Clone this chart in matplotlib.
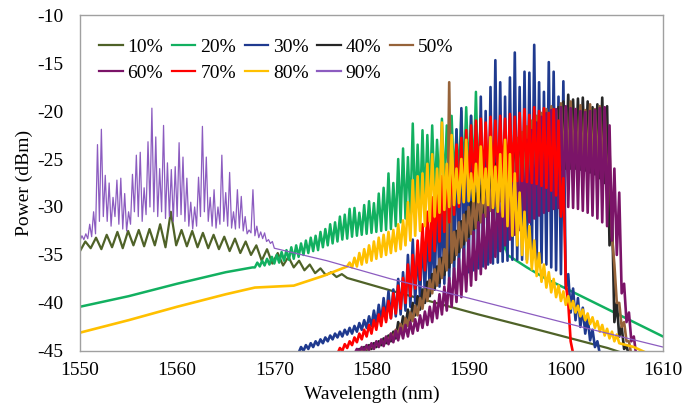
import numpy as np
import matplotlib
matplotlib.use("Agg")
import matplotlib.pyplot as plt

plt.rcParams['font.family'] = ['Liberation Serif', 'DejaVu Serif']
plt.rcParams['axes.unicode_minus'] = False

# ----- spectra (dBm) -----
# comb parts are stored as trough / peak readings, alternating along wavelength

labels = ["10%", "20%", "30%", "40%", "50%", "60%", "70%", "80%", "90%"]
colors = ["#4F6228", "#12B060", "#1F3A8F", "#262626", "#96633A",
          "#7B1468", "#FF0000", "#FFC000", "#8C5CC0"]

# 10%
lo_10 = [-34.6, -34.3, -34.4, -34.2, -34.3, -34.0, -34.1, -34.0, -34.2, -34.0,
         -34.1, -34.2, -34.3, -34.4, -34.6, -34.8, -35.0, -35.6, -35.9, -36.1,
         -36.3, -36.6, -36.9, -37.1, -37.3, -37.4]
hi_10 = [-33.6, -33.2, -32.9, -32.6, -32.5, -32.4, -32.3, -31.8, -30.5, -32.4,
         -32.5, -32.7, -32.9, -33.1, -33.3, -33.6, -34.0, -34.4, -34.8, -35.2,
         -35.6, -36.0, -36.4, -36.8, -37.0]
tail_wl_10 = [1583.0, 1591.0, 1596.4, 1604.3, 1605.5]
tail_pw_10 = [-39.0, -41.2, -42.6, -44.7, -45.1]

# 20%
head_wl_20 = [1550.0, 1555.0, 1560.0, 1565.0, 1567.75]
head_pw_20 = [-40.4, -39.3, -38.0, -36.8, -36.3]
lo_20 = [-36.3, -36.2, -36.1, -36.0, -35.9, -35.8, -35.6, -35.5, -35.4, -35.2,
         -35.0, -34.8, -34.6, -34.5, -34.2, -34.0, -33.8, -33.6, -33.4, -33.3,
         -33.1, -33.0, -32.9, -32.8, -32.7, -32.6, -32.5, -32.4, -32.3, -32.0,
         -31.6, -31.2, -30.8, -30.5, -30.2, -29.8, -29.5, -29.0, -28.6, -28.2,
         -27.8, -27.5, -27.2, -27.0, -26.8, -27.0, -28.0, -29.5, -31.0, -32.5,
         -33.8, -34.6, -35.0]
hi_20 = [-35.8, -35.6, -35.4, -35.2, -35.0, -34.7, -34.5, -34.2, -34.0, -33.8,
         -33.5, -33.2, -33.0, -32.6, -32.3, -31.8, -31.6, -31.0, -30.8, -30.2,
         -30.1, -30.6, -29.8, -29.4, -29.6, -28.6, -28.0, -26.5, -27.5, -25.0,
         -23.9, -24.8, -21.3, -23.5, -22.0, -22.5, -21.5, -23.0, -20.8, -21.5,
         -20.5, -22.0, -20.0, -19.6, -20.5, -18.0, -20.5, -22.0, -24.0, -27.0,
         -31.0, -34.0]
tail_wl_20 = [1596.0, 1598.0, 1600.0, 1605.0, 1610.0]
tail_pw_20 = [-36.3, -37.5, -38.5, -41.0, -43.5]

# 30%
lo_30 = [-45.2, -45.0, -44.8, -44.6, -44.4, -44.2, -44.0, -43.8, -43.6, -43.5,
         -43.3, -43.2, -43.0, -42.8, -42.6, -42.4, -42.2, -42.0, -41.8, -41.6,
         -41.4, -41.2, -40.8, -40.4, -40.0, -39.6, -39.3, -39.0, -38.6, -38.3,
         -38.0, -37.7, -37.4, -37.2, -37.0, -36.8, -36.6, -36.4, -36.2, -36.0,
         -35.9, -35.8, -35.7, -35.6, -35.5, -35.5, -35.5, -35.5, -35.6, -35.7,
         -35.8, -36.0, -36.3, -36.6, -37.0, -38.5, -41.0, -41.8, -42.5, -43.2,
         -43.9, -44.6, -45.3]
hi_30 = [-44.6, -44.4, -44.2, -44.0, -43.8, -43.6, -43.4, -43.2, -43.0, -42.8,
         -42.6, -42.4, -42.1, -41.8, -41.4, -40.8, -40.2, -39.5, -38.8, -38.6,
         -37.5, -36.8, -35.0, -33.4, -34.0, -32.5, -31.5, -32.4, -28.0, -29.5,
         -26.0, -25.5, -21.9, -19.7, -23.0, -20.5, -21.5, -18.5, -20.0, -17.5,
         -14.7, -17.0, -18.5, -16.5, -13.9, -17.5, -15.9, -16.0, -13.1, -17.0,
         -18.0, -14.9, -15.9, -18.5, -16.9, -37.0, -38.5, -39.5, -40.5, -41.5,
         -42.8, -44.0]

# 40%
lo_40 = [-45.2, -45.0, -44.9, -44.8, -44.6, -44.4, -44.2, -44.0, -43.7, -42.9,
         -42.4, -41.9, -41.3, -40.7, -40.0, -39.3, -38.6, -37.9, -37.1, -36.3,
         -35.5, -34.7, -33.9, -33.1, -32.3, -31.6, -30.9, -30.2, -29.6, -29.0,
         -28.5, -28.1, -27.8, -27.5, -27.3, -27.1, -27.0, -26.9, -26.8, -26.6,
         -26.4, -26.2, -26.1, -26.0, -26.0, -26.0, -26.1, -26.2, -26.4, -26.6,
         -27.0, -27.5, -34.0, -42.0, -43.5, -44.8, -45.5]
hi_40 = [-44.8, -44.6, -44.4, -44.2, -44.0, -43.7, -43.4, -43.0, -42.0, -41.4,
         -40.7, -40.0, -39.3, -38.6, -37.8, -37.0, -36.2, -35.3, -34.4, -33.5,
         -32.5, -31.5, -30.5, -29.5, -28.6, -27.8, -27.0, -26.2, -25.5, -24.9,
         -24.3, -23.8, -23.3, -22.8, -22.4, -22.0, -21.6, -21.3, -20.8, -20.4,
         -20.0, -19.6, -19.0, -18.3, -18.8, -18.7, -18.6, -19.0, -19.6, -19.3,
         -18.6, -19.5, -30.0, -40.0, -42.5, -44.5]

# 50%
lo_50 = [-45.3, -45.1, -44.9, -44.7, -44.5, -44.3, -44.0, -43.7, -43.3, -42.9,
         -42.4, -41.9, -41.3, -40.6, -39.8, -39.0, -38.2, -37.4, -36.6, -35.8,
         -35.0, -34.2, -33.5, -32.8, -32.2, -31.6, -31.0, -30.4, -29.9, -29.4,
         -29.0, -28.6, -28.2, -27.8, -27.4, -27.0, -26.7, -26.4, -26.1, -25.9,
         -25.7, -25.5, -25.4, -25.3, -25.3, -25.4, -25.5, -25.7, -25.9, -26.2,
         -26.6, -28.0, -33.0, -40.0, -42.5, -44.0, -45.5]
hi_50 = [-44.8, -44.6, -44.4, -44.2, -43.9, -43.6, -43.2, -42.8, -42.2, -41.6,
         -41.0, -40.3, -39.5, -38.6, -37.6, -36.5, -35.4, -34.4, -17.0, -32.6,
         -31.6, -30.8, -30.0, -29.2, -28.4, -27.6, -26.8, -26.0, -25.3, -24.6,
         -24.0, -23.4, -22.8, -22.2, -21.6, -21.0, -20.5, -20.2, -19.8, -19.5,
         -19.9, -19.2, -19.6, -19.0, -19.8, -19.4, -19.9, -19.3, -19.8, -19.5,
         -20.0, -24.0, -36.0, -40.0, -42.0, -44.0]

# 60%
lo_60 = [-45.3, -45.1, -45.0, -44.9, -44.8, -44.6, -44.5, -44.3, -44.1, -43.9,
         -43.7, -43.5, -43.2, -42.9, -42.6, -42.3, -42.0, -41.6, -41.2, -40.8,
         -40.4, -39.9, -39.4, -38.8, -38.2, -37.6, -37.0, -36.4, -35.8, -35.2,
         -34.6, -34.0, -33.4, -32.9, -32.4, -32.0, -31.6, -31.2, -30.9, -30.6,
         -30.4, -30.2, -30.1, -30.0, -30.0, -30.1, -30.2, -30.4, -30.6, -30.9,
         -31.2, -31.6, -32.0, -33.5, -35.0, -39.0, -42.0, -44.0, -45.5]
hi_60 = [-44.8, -44.6, -44.4, -44.2, -44.0, -43.8, -43.5, -43.2, -42.9, -42.6,
         -42.3, -42.0, -41.7, -41.3, -40.9, -40.4, -39.8, -39.1, -38.3, -37.4,
         -36.4, -35.4, -34.4, -33.5, -32.6, -31.6, -30.8, -30.0, -29.0, -28.0,
         -27.0, -26.0, -25.3, -24.6, -23.8, -23.0, -22.0, -21.2, -20.6, -20.2,
         -19.9, -19.8, -19.6, -19.5, -19.7, -19.8, -20.0, -20.1, -20.0, -19.9,
         -19.7, -19.6, -21.5, -26.0, -28.5, -38.0, -41.0, -43.5]

# 70%
lo_70 = [-45.3, -45.0, -44.7, -44.4, -44.1, -43.8, -43.5, -43.2, -42.8, -42.4,
         -42.0, -41.6, -41.1, -40.6, -40.0, -39.3, -38.5, -37.6, -36.6, -35.6,
         -34.6, -33.6, -32.6, -31.6, -30.8, -30.0, -29.4, -28.8, -28.3, -28.0,
         -27.8, -27.6, -27.5, -27.4, -27.3, -27.3, -27.3, -27.3, -27.3, -27.4,
         -27.5, -27.6, -27.8, -28.0, -28.3, -28.8, -31.0, -38.0, -44.0]
hi_70 = [-44.7, -44.3, -44.0, -43.6, -43.2, -42.8, -42.3, -41.8, -41.2, -40.5,
         -39.8, -39.0, -38.2, -37.4, -36.0, -35.0, -33.5, -31.8, -30.5, -29.0,
         -28.0, -26.8, -25.8, -24.8, -23.5, -22.8, -22.0, -21.5, -21.0, -20.8,
         -21.2, -20.6, -21.0, -20.5, -20.8, -20.3, -20.6, -20.2, -19.8, -20.4,
         -19.6, -20.0, -19.7, -20.2, -19.8, -21.0, -27.0, -40.0]
tail_wl_70 = [1600.8]
tail_pw_70 = [-45.5]

# 80%
head_wl_80 = [1550.0, 1555.0, 1560.0, 1565.0, 1568.0, 1570.0, 1572.0, 1575.0, 1577.25]
head_pw_80 = [-43.1, -41.8, -40.4, -39.1, -38.4, -38.3, -38.2, -37.2, -36.3]
lo_80 = [-36.2, -36.3, -36.2, -36.0, -35.8, -35.6, -35.4, -35.2, -35.0, -34.8,
         -34.6, -34.4, -34.0, -33.5, -33.0, -32.5, -32.0, -31.5, -31.0, -30.6,
         -30.3, -30.0, -29.8, -29.6, -29.5, -29.4, -29.4, -29.5, -29.6, -29.8,
         -30.1, -30.5, -31.0, -32.0, -33.0, -34.0, -35.0, -35.8, -36.5, -37.2,
         -37.8, -38.4, -38.9, -39.4, -39.8, -40.2, -40.6, -41.0, -41.4, -41.8,
         -42.2, -42.6, -43.0, -43.4, -43.7, -44.0, -44.2]
hi_80 = [-35.8, -35.3, -34.8, -34.4, -34.0, -33.6, -33.2, -32.9, -32.6, -32.4,
         -31.8, -31.4, -29.5, -27.2, -26.8, -26.5, -25.5, -24.5, -26.0, -21.2,
         -25.5, -22.5, -26.0, -25.0, -23.0, -26.5, -25.5, -23.7, -26.0, -22.7,
         -25.8, -24.5, -23.0, -24.5, -26.5, -28.5, -30.5, -32.0, -33.5, -34.8,
         -36.0, -36.8, -37.5, -38.2, -38.8, -39.3, -39.8, -40.3, -40.7, -41.1,
         -41.5, -41.9, -42.3, -42.7, -43.0, -43.3]
tail_wl_80 = [1607.0, 1608.5]
tail_pw_80 = [-44.6, -45.3]

# 90%
lo_90 = [-33.5, -33.4, -33.3, -33.1, -32.8, -31.5, -31.0, -31.5, -32.0, -31.0,
         -31.8, -32.3, -32.5, -31.8, -30.5, -31.0, -31.5, -30.8, -30.0, -30.5,
         -31.0, -30.5, -31.2, -31.0, -31.5, -31.0, -30.8, -31.5, -32.0, -32.3,
         -32.0, -31.0, -30.5, -31.5, -32.0, -32.2, -31.8, -31.5, -32.0, -32.2,
         -32.3, -32.2, -32.5, -32.8, -32.7, -33.0, -33.2, -33.3, -33.6, -33.8,
         -34.3]
hi_90 = [-33.0, -32.8, -31.8, -30.5, -23.5, -21.9, -26.7, -27.5, -29.0, -27.2,
         -27.0, -28.6, -30.5, -26.6, -24.6, -24.3, -28.0, -23.2, -19.7, -22.7,
         -26.0, -21.5, -25.4, -26.1, -25.8, -23.3, -24.8, -27.0, -29.5, -30.0,
         -26.9, -21.6, -24.8, -29.0, -28.2, -30.0, -24.6, -28.5, -26.4, -30.5,
         -28.2, -28.9, -31.0, -32.4, -28.2, -32.0, -32.6, -32.7, -33.4, -33.6]
tail_wl_90 = [1575.4, 1582.0, 1590.0, 1600.0, 1610.0]
tail_pw_90 = [-35.6, -37.5, -39.5, -42.1, -44.6]


def comb(start, end, lo, hi):
    # interleave trough and peak readings over an even wavelength grid
    assert len(lo) == len(hi) + 1
    pw = np.empty(len(lo) + len(hi))
    pw[0::2] = lo
    pw[1::2] = hi
    return np.linspace(start, end, len(pw)), pw


def join(*parts):
    wl = np.concatenate([np.asarray(p[0], float) for p in parts])
    pw = np.concatenate([np.asarray(p[1], float) for p in parts])
    return wl, pw


series = [
    join(comb(1550.0, 1577.5, lo_10, hi_10), (tail_wl_10, tail_pw_10)),
    join((head_wl_20, head_pw_20), comb(1568.0, 1594.0, lo_20, hi_20), (tail_wl_20, tail_pw_20)),
    comb(1572.5, 1603.5, lo_30, hi_30),
    comb(1578.5, 1606.5, lo_40, hi_40),
    comb(1578.75, 1606.75, lo_50, hi_50),
    comb(1578.25, 1607.25, lo_60, hi_60),
    join(comb(1576.5, 1600.5, lo_70, hi_70), (tail_wl_70, tail_pw_70)),
    join((head_wl_80, head_pw_80), comb(1577.5, 1605.5, lo_80, hi_80), (tail_wl_80, tail_pw_80)),
    join(comb(1550.0, 1570.0, lo_90, hi_90), (tail_wl_90, tail_pw_90)),
]
widths = [1.6, 1.8, 1.9, 1.9, 1.9, 1.9, 1.9, 1.9, 0.9]

fig = plt.figure(figsize=(6.98, 4.08), dpi=100)
ax = fig.add_axes([0.1146, 0.140, 0.8352, 0.823])

lines = []
for (wl, pw), lab, col, lw in zip(series, labels, colors, widths):
    lines += ax.plot(wl, pw, color=col, lw=lw, label=lab)

ax.set_xlim(1550, 1610)
ax.set_ylim(-45, -10)
ax.set_xticks(np.arange(1550, 1611, 10))
ax.set_yticks(np.arange(-45, -9, 5))
ax.tick_params(length=0, labelsize=14)
ax.tick_params(axis='y', pad=12)
ax.tick_params(axis='x', pad=8)
for sp in ax.spines.values():
    sp.set_color("#A0A0A0")
    sp.set_linewidth(1.0)

ax.set_xlabel("Wavelength (nm)", fontsize=14, labelpad=5)
ax.set_ylabel("Power (dBm)", fontsize=14, labelpad=3)

# legend fills column by column, so order the handles to read row-wise
order = [0, 5, 1, 6, 2, 7, 3, 8, 4]
leg = ax.legend([lines[i] for i in order], [labels[i] for i in order],
                ncol=5, loc='upper left', bbox_to_anchor=(0.02, 0.955),
                frameon=False, fontsize=14, handlelength=1.2,
                handletextpad=0.25, columnspacing=0.45, labelspacing=0.45,
                borderaxespad=0.0)
for h in leg.get_lines():
    h.set_linewidth(1.6)

fig.savefig("out.png", dpi=100)
